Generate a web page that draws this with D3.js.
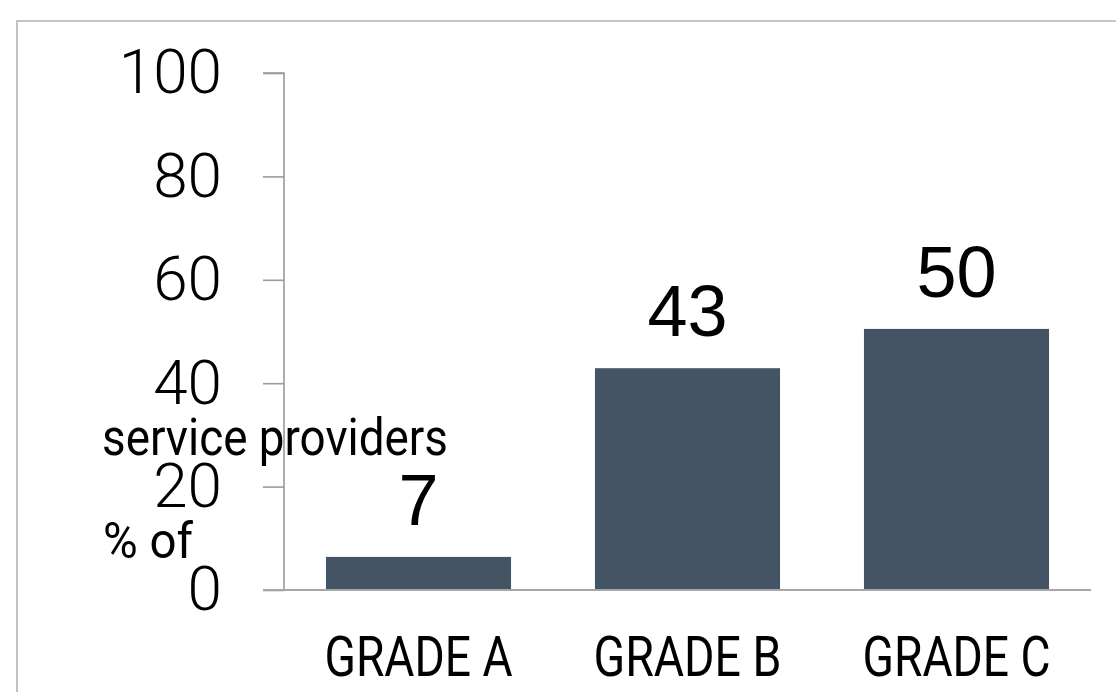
<!DOCTYPE html>
<html>
<head>
<meta charset="utf-8">
<script src="https://cdn.jsdelivr.net/npm/d3@7"></script>
<style>
  html, body { margin: 0; padding: 0; background: #fff; }
  svg { display: block; }
</style>
</head>
<body>
<div id="chart"></div>
<script>
// chart data
var grades = ['GRADE A', 'GRADE B', 'GRADE C'];
var shares = [6.4, 42.9, 50.5];
var shareLabels = ['7', '43', '50'];
var yTicks = [0, 20, 40, 60, 80, 100];

var width = 1116, height = 692;

var svg = d3.select('#chart').append('svg')
  .attr('width', width)
  .attr('height', height);

// outer frame (top and left edges)
svg.append('path')
  .attr('d', 'M17,692V21H1116')
  .attr('fill', 'none')
  .attr('stroke', '#b3b3b3')
  .attr('stroke-width', 1.6);

// scales
var xScale = d3.scaleBand()
  .domain(grades)
  .range([284, 1091])
  .paddingInner(0.312)
  .paddingOuter(0.156);

var yScale = d3.scaleLinear()
  .domain([0, 100])
  .range([590, 73]);

// y axis
var yAxis = d3.axisLeft(yScale)
  .tickValues(yTicks)
  .tickSize(21)
  .tickPadding(41)
  .tickFormat(d3.format('d'));

var yG = svg.append('g')
  .attr('transform', 'translate(' + xScale.range()[0] + ',0)')
  .call(yAxis);

yG.select('.domain')
  .attr('d', 'M-21,' + yScale(100) + 'H0V' + yScale(0))
  .attr('stroke', '#9a9a9a')
  .attr('stroke-width', 1.6);
yG.selectAll('.tick line')
  .attr('stroke', '#9a9a9a')
  .attr('stroke-width', 1.6);
yG.selectAll('.tick text')
  .attr('fill', '#000')
  .style('font-family', 'Roboto, sans-serif')
  .style('font-weight', 300)
  .style('font-size', '62px');

// bars
svg.append('g').attr('class', 'data')
  .selectAll('rect').data(shares)
  .enter()
  .append('rect')
  .attr('x', function(d, i) { return xScale(grades[i]); })
  .attr('y', function(d) { return yScale(d); })
  .attr('width', xScale.bandwidth())
  .attr('height', function(d) { return yScale(0) - yScale(d); })
  .attr('fill', '#435564');

// baseline
svg.append('line')
  .attr('x1', xScale.range()[0] - 21)
  .attr('x2', xScale.range()[1])
  .attr('y1', yScale(0))
  .attr('y2', yScale(0))
  .attr('stroke', '#a6a6a6')
  .attr('stroke-width', 2);

// value labels
svg.append('g')
  .selectAll('text').data(shares)
  .enter()
  .append('text')
  .attr('x', function(d, i) { return xScale(grades[i]) + xScale.bandwidth() / 2; })
  .attr('y', function(d) { return yScale(d) - 32; })
  .attr('text-anchor', 'middle')
  .style('font-family', '"Liberation Sans", Arial, sans-serif')
  .style('font-size', '72px')
  .text(function(d, i) { return shareLabels[i]; });

// category labels
svg.append('g')
  .selectAll('text').data(grades)
  .enter()
  .append('text')
  .attr('x', function(d) { return xScale(d) + xScale.bandwidth() / 2; })
  .attr('y', 676)
  .attr('text-anchor', 'middle')
  .attr('textLength', 188)
  .attr('lengthAdjust', 'spacingAndGlyphs')
  .style('font-family', 'Roboto, sans-serif')
  .style('font-size', '56px')
  .text(function(d) { return d; });

// axis title (rendered unrotated, in two lines)
svg.append('text')
  .attr('x', 102)
  .attr('y', 455)
  .attr('textLength', 346)
  .attr('lengthAdjust', 'spacingAndGlyphs')
  .style('font-family', 'Roboto, sans-serif')
  .style('font-size', '52px')
  .text('service providers');

svg.append('text')
  .attr('x', 103)
  .attr('y', 558)
  .attr('textLength', 90)
  .attr('lengthAdjust', 'spacingAndGlyphs')
  .style('font-family', 'Roboto, sans-serif')
  .style('font-size', '50px')
  .text('% of');
</script>
</body>
</html>
